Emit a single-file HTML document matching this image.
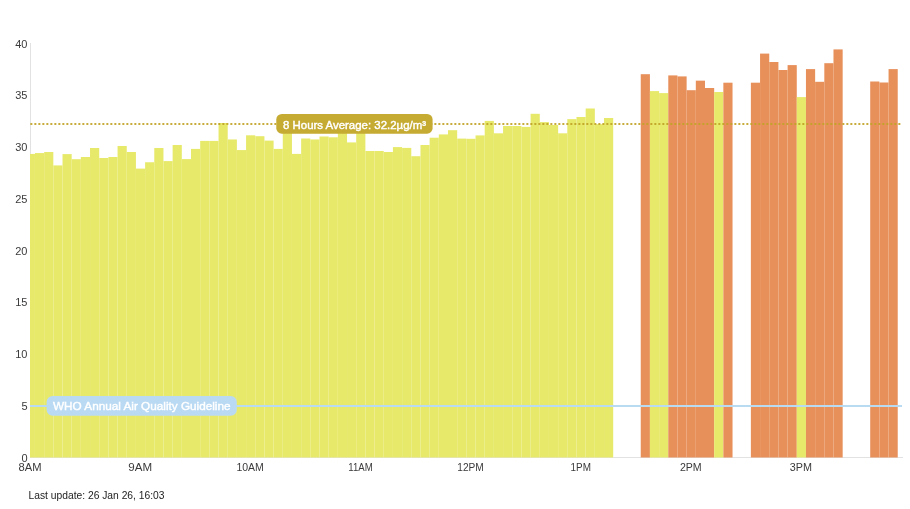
<!DOCTYPE html>
<html><head><meta charset="utf-8"><style>
html,body{margin:0;padding:0;background:#fff;}
body{width:910px;height:509px;overflow:hidden;position:relative;font-family:"Liberation Sans",sans-serif;}
svg{position:absolute;left:0;top:0;}
.ax text{font-size:11px;fill:#3a3a3a;}
text{-webkit-font-smoothing:antialiased;}
svg{will-change:transform;}
</style></head><body>
<svg width="910" height="509" viewBox="0 0 910 509">
<rect x="30" y="43" width="1" height="415" fill="#e2e2e2"/>
<rect x="30" y="457" width="873" height="1" fill="#e2e2e2"/>
<g><rect x="30.000" y="153.95" width="4.966" height="303.55" fill="#e7e96b"/><rect x="34.966" y="153.06" width="9.178" height="304.44" fill="#e7e96b"/><rect x="44.145" y="152.03" width="9.178" height="305.47" fill="#e7e96b"/><rect x="53.323" y="165.40" width="9.178" height="292.10" fill="#e7e96b"/><rect x="62.502" y="154.10" width="9.178" height="303.40" fill="#e7e96b"/><rect x="71.680" y="159.20" width="9.178" height="298.30" fill="#e7e96b"/><rect x="80.858" y="157.00" width="9.178" height="300.50" fill="#e7e96b"/><rect x="90.037" y="148.00" width="9.178" height="309.50" fill="#e7e96b"/><rect x="99.215" y="158.00" width="9.178" height="299.50" fill="#e7e96b"/><rect x="108.394" y="157.00" width="9.178" height="300.50" fill="#e7e96b"/><rect x="117.572" y="146.00" width="9.178" height="311.50" fill="#e7e96b"/><rect x="126.750" y="152.00" width="9.178" height="305.50" fill="#e7e96b"/><rect x="135.929" y="168.60" width="9.178" height="288.90" fill="#e7e96b"/><rect x="145.107" y="162.25" width="9.178" height="295.25" fill="#e7e96b"/><rect x="154.286" y="148.00" width="9.178" height="309.50" fill="#e7e96b"/><rect x="163.464" y="161.10" width="9.178" height="296.40" fill="#e7e96b"/><rect x="172.642" y="145.00" width="9.178" height="312.50" fill="#e7e96b"/><rect x="181.821" y="159.10" width="9.178" height="298.40" fill="#e7e96b"/><rect x="190.999" y="148.90" width="9.178" height="308.60" fill="#e7e96b"/><rect x="200.178" y="140.90" width="9.178" height="316.60" fill="#e7e96b"/><rect x="209.356" y="140.90" width="9.178" height="316.60" fill="#e7e96b"/><rect x="218.534" y="123.00" width="9.178" height="334.50" fill="#e7e96b"/><rect x="227.713" y="139.45" width="9.178" height="318.05" fill="#e7e96b"/><rect x="236.891" y="150.06" width="9.178" height="307.44" fill="#e7e96b"/><rect x="246.070" y="135.30" width="9.178" height="322.20" fill="#e7e96b"/><rect x="255.248" y="136.20" width="9.178" height="321.30" fill="#e7e96b"/><rect x="264.426" y="140.60" width="9.178" height="316.90" fill="#e7e96b"/><rect x="273.605" y="148.90" width="9.178" height="308.60" fill="#e7e96b"/><rect x="282.783" y="130.00" width="9.178" height="327.50" fill="#e7e96b"/><rect x="291.962" y="153.90" width="9.178" height="303.60" fill="#e7e96b"/><rect x="301.140" y="138.50" width="9.178" height="319.00" fill="#e7e96b"/><rect x="310.318" y="139.45" width="9.178" height="318.05" fill="#e7e96b"/><rect x="319.497" y="136.50" width="9.178" height="321.00" fill="#e7e96b"/><rect x="328.675" y="137.30" width="9.178" height="320.20" fill="#e7e96b"/><rect x="337.854" y="130.00" width="9.178" height="327.50" fill="#e7e96b"/><rect x="347.032" y="142.40" width="9.178" height="315.10" fill="#e7e96b"/><rect x="356.210" y="130.00" width="9.178" height="327.50" fill="#e7e96b"/><rect x="365.389" y="151.00" width="9.178" height="306.50" fill="#e7e96b"/><rect x="374.567" y="151.00" width="9.178" height="306.50" fill="#e7e96b"/><rect x="383.746" y="152.00" width="9.178" height="305.50" fill="#e7e96b"/><rect x="392.924" y="147.10" width="9.178" height="310.40" fill="#e7e96b"/><rect x="402.102" y="147.90" width="9.178" height="309.60" fill="#e7e96b"/><rect x="411.281" y="156.20" width="9.178" height="301.30" fill="#e7e96b"/><rect x="420.459" y="145.00" width="9.178" height="312.50" fill="#e7e96b"/><rect x="429.638" y="137.70" width="9.178" height="319.80" fill="#e7e96b"/><rect x="438.816" y="134.40" width="9.178" height="323.10" fill="#e7e96b"/><rect x="447.994" y="130.20" width="9.178" height="327.30" fill="#e7e96b"/><rect x="457.173" y="138.60" width="9.178" height="318.90" fill="#e7e96b"/><rect x="466.351" y="138.80" width="9.178" height="318.70" fill="#e7e96b"/><rect x="475.530" y="135.40" width="9.178" height="322.10" fill="#e7e96b"/><rect x="484.708" y="120.90" width="9.178" height="336.60" fill="#e7e96b"/><rect x="493.886" y="133.30" width="9.178" height="324.20" fill="#e7e96b"/><rect x="503.065" y="126.00" width="9.178" height="331.50" fill="#e7e96b"/><rect x="512.243" y="126.00" width="9.178" height="331.50" fill="#e7e96b"/><rect x="521.422" y="126.90" width="9.178" height="330.60" fill="#e7e96b"/><rect x="530.600" y="113.80" width="9.178" height="343.70" fill="#e7e96b"/><rect x="539.778" y="122.10" width="9.178" height="335.40" fill="#e7e96b"/><rect x="548.957" y="125.00" width="9.178" height="332.50" fill="#e7e96b"/><rect x="558.135" y="133.30" width="9.178" height="324.20" fill="#e7e96b"/><rect x="567.314" y="119.15" width="9.178" height="338.35" fill="#e7e96b"/><rect x="576.492" y="117.00" width="9.178" height="340.50" fill="#e7e96b"/><rect x="585.670" y="108.50" width="9.178" height="349.00" fill="#e7e96b"/><rect x="594.849" y="124.20" width="9.178" height="333.30" fill="#e7e96b"/><rect x="604.027" y="118.00" width="9.178" height="339.50" fill="#e7e96b"/><rect x="640.741" y="74.20" width="9.178" height="383.30" fill="#e8905a"/><rect x="649.919" y="91.10" width="9.178" height="366.40" fill="#e7e96b"/><rect x="659.098" y="93.10" width="9.178" height="364.40" fill="#e7e96b"/><rect x="668.276" y="75.40" width="9.178" height="382.10" fill="#e8905a"/><rect x="677.454" y="76.40" width="9.178" height="381.10" fill="#e8905a"/><rect x="686.633" y="90.20" width="9.178" height="367.30" fill="#e8905a"/><rect x="695.811" y="80.65" width="9.178" height="376.85" fill="#e8905a"/><rect x="704.990" y="88.00" width="9.178" height="369.50" fill="#e8905a"/><rect x="714.168" y="92.00" width="9.178" height="365.50" fill="#e7e96b"/><rect x="723.346" y="82.70" width="9.178" height="374.80" fill="#e8905a"/><rect x="750.882" y="82.70" width="9.178" height="374.80" fill="#e8905a"/><rect x="760.060" y="53.60" width="9.178" height="403.90" fill="#e8905a"/><rect x="769.238" y="62.00" width="9.178" height="395.50" fill="#e8905a"/><rect x="778.417" y="70.00" width="9.178" height="387.50" fill="#e8905a"/><rect x="787.595" y="65.10" width="9.178" height="392.40" fill="#e8905a"/><rect x="796.774" y="97.10" width="9.178" height="360.40" fill="#e7e96b"/><rect x="805.952" y="69.10" width="9.178" height="388.40" fill="#e8905a"/><rect x="815.130" y="81.80" width="9.178" height="375.70" fill="#e8905a"/><rect x="824.309" y="63.20" width="9.178" height="394.30" fill="#e8905a"/><rect x="833.487" y="49.40" width="9.178" height="408.10" fill="#e8905a"/><rect x="870.201" y="81.50" width="9.178" height="376.00" fill="#e8905a"/><rect x="879.379" y="82.50" width="9.178" height="375.00" fill="#e8905a"/><rect x="888.558" y="69.10" width="9.178" height="388.40" fill="#e8905a"/></g>

<line x1="30" y1="406" x2="902" y2="406" stroke="#b9dbf2" stroke-width="2"/>
<line x1="30" y1="124" x2="901" y2="124" stroke="#c1a426" stroke-width="2" stroke-dasharray="2 2" stroke-dashoffset="-0.35" opacity="0.9"/>
<rect x="276.3" y="114" width="156.3" height="19.7" rx="5.5" fill="#c6ab33"/>
<text x="283" y="128.8" font-size="11" fill="#fff" stroke="#fff" stroke-width="0.4" textLength="143" lengthAdjust="spacingAndGlyphs">8 Hours Average: 32.2µg/m³</text>
<rect x="46.6" y="396" width="190.2" height="19.8" rx="6" fill="#badaf3"/>
<text x="53" y="409.8" font-size="11" fill="#fff" stroke="#fff" stroke-width="0.4" textLength="177.5" lengthAdjust="spacingAndGlyphs">WHO Annual Air Quality Guideline</text>
<g class="ax"><text x="27.5" y="461.50" text-anchor="end">0</text><text x="27.5" y="409.75" text-anchor="end">5</text><text x="27.5" y="358.00" text-anchor="end">10</text><text x="27.5" y="306.25" text-anchor="end">15</text><text x="27.5" y="254.50" text-anchor="end">20</text><text x="27.5" y="202.75" text-anchor="end">25</text><text x="27.5" y="151.00" text-anchor="end">30</text><text x="27.5" y="99.25" text-anchor="end">35</text><text x="27.5" y="47.50" text-anchor="end">40</text><text x="18.50" y="471.2" textLength="23.0" lengthAdjust="spacingAndGlyphs">8AM</text><text x="128.30" y="471.2" textLength="23.8" lengthAdjust="spacingAndGlyphs">9AM</text><text x="236.40" y="471.2" textLength="27.4" lengthAdjust="spacingAndGlyphs">10AM</text><text x="348.30" y="471.2" textLength="24.4" lengthAdjust="spacingAndGlyphs">11AM</text><text x="457.30" y="471.2" textLength="26.5" lengthAdjust="spacingAndGlyphs">12PM</text><text x="570.50" y="471.2" textLength="20.4" lengthAdjust="spacingAndGlyphs">1PM</text><text x="679.90" y="471.2" textLength="21.8" lengthAdjust="spacingAndGlyphs">2PM</text><text x="789.70" y="471.2" textLength="22.2" lengthAdjust="spacingAndGlyphs">3PM</text></g>
<text x="28.5" y="498.8" font-size="11" fill="#222" textLength="136" lengthAdjust="spacingAndGlyphs">Last update: 26 Jan 26, 16:03</text>
</svg>
</body></html>
